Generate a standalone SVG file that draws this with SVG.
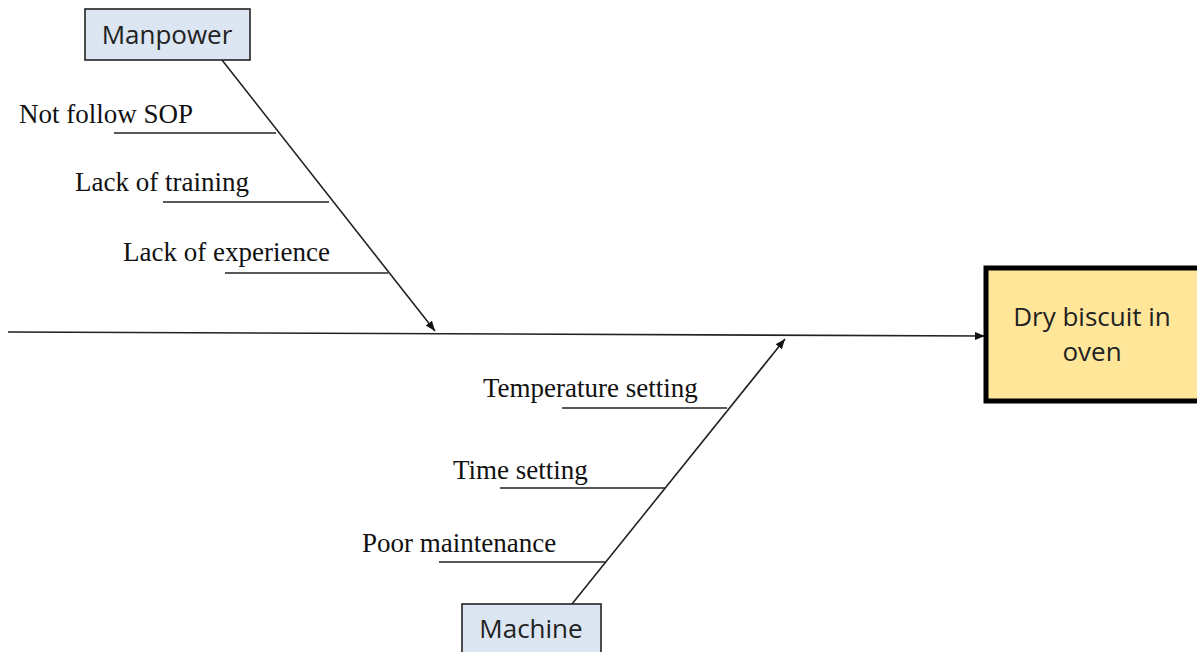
<svg xmlns="http://www.w3.org/2000/svg" width="1197" height="652" viewBox="0 0 1197 652">
<style>
.cause{font-family:"Liberation Serif","Times New Roman",serif;font-size:27px;fill:#111}
.hdr{font-family:"Open Sans","Liberation Sans",sans-serif;font-size:26px;fill:#222;text-anchor:middle}
.ln{stroke:#222;stroke-width:1.6;fill:none}
.box{fill:#dce6f2;stroke:#222;stroke-width:1.6}
</style>
<defs>
<marker id="ah" viewBox="0 0 10 10" refX="10" refY="5" markerWidth="10" markerHeight="10" markerUnits="userSpaceOnUse" orient="auto">
<path d="M0,1 L10,5 L0,9 Z" fill="#111"/>
</marker>
</defs>
<rect width="1197" height="652" fill="#fff"/>
<g id="connectors">
<line class="ln" x1="8" y1="332" x2="985" y2="336" marker-end="url(#ah)"/>
<line class="ln" x1="222" y1="60" x2="435" y2="331" marker-end="url(#ah)"/>
<line class="ln" x1="572" y1="604" x2="785" y2="339" marker-end="url(#ah)"/>
<line class="ln" x1="114" y1="133" x2="276" y2="133"/>
<line class="ln" x1="163" y1="202" x2="329" y2="202"/>
<line class="ln" x1="225" y1="273" x2="388" y2="273"/>
<line class="ln" x1="562" y1="408" x2="727" y2="408"/>
<line class="ln" x1="500" y1="488" x2="665" y2="488"/>
<line class="ln" x1="439" y1="562" x2="605" y2="562"/>
</g>
<g id="manpower">
<rect class="box" x="85" y="9" width="165" height="51"/>
<text class="hdr" x="167" y="44">Manpower</text>
</g>
<g id="machine">
<rect class="box" x="462" y="604" width="139" height="60"/>
<text class="hdr" x="531" y="638">Machine</text>
</g>
<g id="effect">
<rect x="986" y="268" width="220" height="133" fill="#ffe699" stroke="#000" stroke-width="5"/>
<text class="hdr" x="1092" y="326">Dry biscuit in</text>
<text class="hdr" x="1092" y="361">oven</text>
</g>
<g id="causes">
<text class="cause" x="19" y="123">Not follow SOP</text>
<text class="cause" x="75" y="191">Lack of training</text>
<text class="cause" x="123" y="261">Lack of experience</text>
<text class="cause" x="483" y="397">Temperature setting</text>
<text class="cause" x="453" y="479">Time setting</text>
<text class="cause" x="362" y="552">Poor maintenance</text>
</g>
</svg>
